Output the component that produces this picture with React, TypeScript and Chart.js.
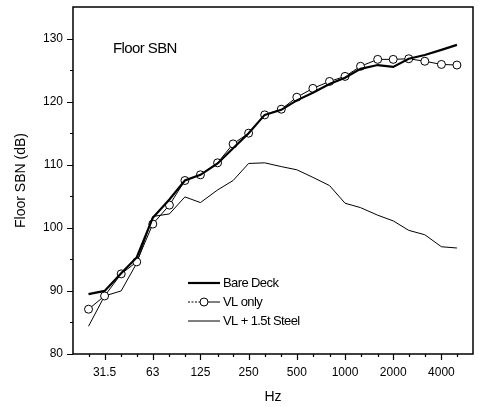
import React, { useEffect, useRef } from 'react';
import { Chart, registerables } from 'chart.js';

Chart.register(...registerables);

// One-third octave band centre frequencies (Hz)
const bandsHz = [25, 31.5, 40, 50, 63, 80, 100, 125, 160, 200, 250, 315, 400, 500, 630, 800, 1000, 1250, 1600, 2000, 2500, 3150, 4000, 5000];
// Octave tick values and their labels
const octaveHz = [31.5, 63, 125, 250, 500, 1000, 2000, 4000];
const octaveLabels = ['31.5', '63', '125', '250', '500', '1000', '2000', '4000'];
const yTickValues = [80, 90, 100, 110, 120, 130];
const yMinorValues = [85, 95, 105, 115, 125];

const seriesNames = ['Bare Deck', 'VL only', 'VL + 1.5t Steel'];
const bareDeck = [89.5, 90.0, 92.8, 95.3, 101.6, 104.5, 107.5, 108.4, 110.2, 112.6, 115.0, 117.9, 118.7, 120.2, 121.4, 122.8, 123.8, 125.2, 125.8, 125.5, 126.8, 127.4, 128.2, 129.0];
const vlOnly = [87.1, 89.2, 92.7, 94.6, 100.6, 103.6, 107.5, 108.4, 110.3, 113.3, 115.0, 117.9, 118.8, 120.7, 122.1, 123.2, 124.0, 125.6, 126.7, 126.7, 126.8, 126.4, 125.9, 125.8];
const vlSteel = [84.4, 89.2, 90.0, 94.4, 101.8, 102.2, 104.9, 104.0, 106.0, 107.5, 110.2, 110.3, 109.7, 109.2, 108.0, 106.7, 103.9, 103.2, 102.0, 101.1, 99.6, 98.9, 97.0, 96.8];

const FONT = "'Liberation Sans', Arial, sans-serif";

const toPoints = (ys: number[]) => bandsHz.map((x, i) => ({ x, y: ys[i] }));

const framePlugin = {
  id: 'frameTicks',
  afterDraw(chart: any) {
    const { ctx, chartArea } = chart;
    const xs = chart.scales.x;
    const ys = chart.scales.y;
    ctx.save();
    ctx.strokeStyle = '#000';
    ctx.lineWidth = 1.5;
    ctx.strokeRect(chartArea.left, chartArea.top, chartArea.right - chartArea.left, chartArea.bottom - chartArea.top);
    ctx.lineWidth = 1.2;
    ctx.beginPath();
    yTickValues.forEach((v) => {
      const p = Math.round(ys.getPixelForValue(v)) + 0.5;
      ctx.moveTo(chartArea.left - 6, p);
      ctx.lineTo(chartArea.left, p);
    });
    yMinorValues.forEach((v) => {
      const p = Math.round(ys.getPixelForValue(v)) + 0.5;
      ctx.moveTo(chartArea.left - 3, p);
      ctx.lineTo(chartArea.left, p);
    });
    bandsHz.forEach((f) => {
      const p = Math.round(xs.getPixelForValue(f)) + 0.5;
      const major = octaveHz.indexOf(f) >= 0;
      ctx.moveTo(p, chartArea.bottom);
      ctx.lineTo(p, chartArea.bottom + (major ? 6 : 3));
    });
    ctx.stroke();
    ctx.restore();
  },
};

const legendPlugin = {
  id: 'insideLegend',
  afterDraw(chart: any) {
    const { ctx, chartArea } = chart;
    ctx.save();
    ctx.fillStyle = '#000';
    ctx.textBaseline = 'middle';
    ctx.textAlign = 'left';
    ctx.font = `15px ${FONT}`;
    try { (ctx as any).letterSpacing = '-0.6px'; } catch (e) {}
    ctx.fillText('Floor SBN', chartArea.left + 40, chartArea.top + 42);

    ctx.font = `13px ${FONT}`;
    const x0 = chartArea.left + 115;
    const x1 = chartArea.left + 147;
    chart.data.datasets.forEach((ds: any, i: number) => {
      const y = chartArea.top + 276 + i * 19;
      ctx.strokeStyle = '#000';
      ctx.lineWidth = ds.borderWidth;
      ctx.setLineDash(i === 1 ? [2, 1.5] : []);
      ctx.beginPath();
      ctx.moveTo(x0, y);
      ctx.lineTo(i === 1 ? (x0 + x1) / 2 : x1, y);
      ctx.stroke();
      ctx.setLineDash([]);
      if (i === 1) {
        ctx.beginPath();
        ctx.moveTo((x0 + x1) / 2, y);
        ctx.lineTo(x1, y);
        ctx.stroke();
        ctx.beginPath();
        ctx.arc((x0 + x1) / 2, y, 4, 0, Math.PI * 2);
        ctx.fillStyle = '#fff';
        ctx.fill();
        ctx.stroke();
        ctx.fillStyle = '#000';
      }
      ctx.fillText(ds.label, x1 + 3, y);
    });
    ctx.restore();
  },
};

export default function App() {
  const canvasRef = useRef<HTMLCanvasElement | null>(null);

  useEffect(() => {
    if (!canvasRef.current) return;
    const chart = new Chart(canvasRef.current, {
      type: 'line',
      data: {
        datasets: [
          {
            label: seriesNames[0],
            data: toPoints(bareDeck),
            borderColor: '#000',
            borderWidth: 2.2,
            pointRadius: 0,
            tension: 0,
          },
          {
            label: seriesNames[1],
            data: toPoints(vlOnly),
            borderColor: '#000',
            borderWidth: 1,
            pointRadius: 4,
            pointBorderWidth: 1,
            pointBackgroundColor: '#fff',
            pointBorderColor: '#000',
            tension: 0,
          },
          {
            label: seriesNames[2],
            data: toPoints(vlSteel),
            borderColor: '#000',
            borderWidth: 1,
            pointRadius: 0,
            tension: 0,
          },
        ],
      },
      options: {
        animation: false,
        responsive: false,
        maintainAspectRatio: false,
        layout: { padding: { left: 0, right: 3, top: 7, bottom: 0 } },
        plugins: { legend: { display: false }, tooltip: { enabled: false } },
        scales: {
          x: {
            type: 'logarithmic',
            min: 20,
            max: 6300,
            grid: { display: false, drawTicks: false },
            border: { display: false },
            afterBuildTicks: (scale: any) => {
              scale.ticks = octaveHz.map((v) => ({ value: v }));
            },
            afterFit: (scale: any) => {
              scale.height = 53;
              scale.paddingLeft = 0;
              scale.paddingRight = 0;
            },
            ticks: {
              autoSkip: false,
              maxRotation: 0,
              padding: 11,
              color: '#000',
              font: { family: FONT, size: 12 },
              callback: (_v: any, i: number) => octaveLabels[i],
            },
            title: {
              display: true,
              text: 'Hz',
              color: '#000',
              font: { family: FONT, size: 14 },
              padding: { top: 0, bottom: 1 },
            },
          },
          y: {
            type: 'linear',
            min: 80,
            max: 135,
            grid: { display: false, drawTicks: false },
            border: { display: false },
            afterBuildTicks: (scale: any) => {
              scale.ticks = yTickValues.map((v) => ({ value: v }));
            },
            afterFit: (scale: any) => {
              scale.width = 73;
              scale.paddingTop = 0;
              scale.paddingBottom = 0;
            },
            ticks: {
              padding: 10,
              color: '#000',
              font: { family: FONT, size: 12 },
              callback: (v: any) => String(v),
            },
            title: {
              display: true,
              text: 'Floor SBN (dB)',
              color: '#000',
              font: { family: FONT, size: 14 },
              padding: { top: 13, bottom: 0 },
            },
          },
        },
      },
      plugins: [framePlugin, legendPlugin],
    } as any);
    return () => chart.destroy();
  }, []);

  return (
    <div style={{ position: 'fixed', left: 0, top: 0, width: 478, height: 407, background: '#fff' }}>
      <canvas ref={canvasRef} width={478} height={407} />
    </div>
  );
}
